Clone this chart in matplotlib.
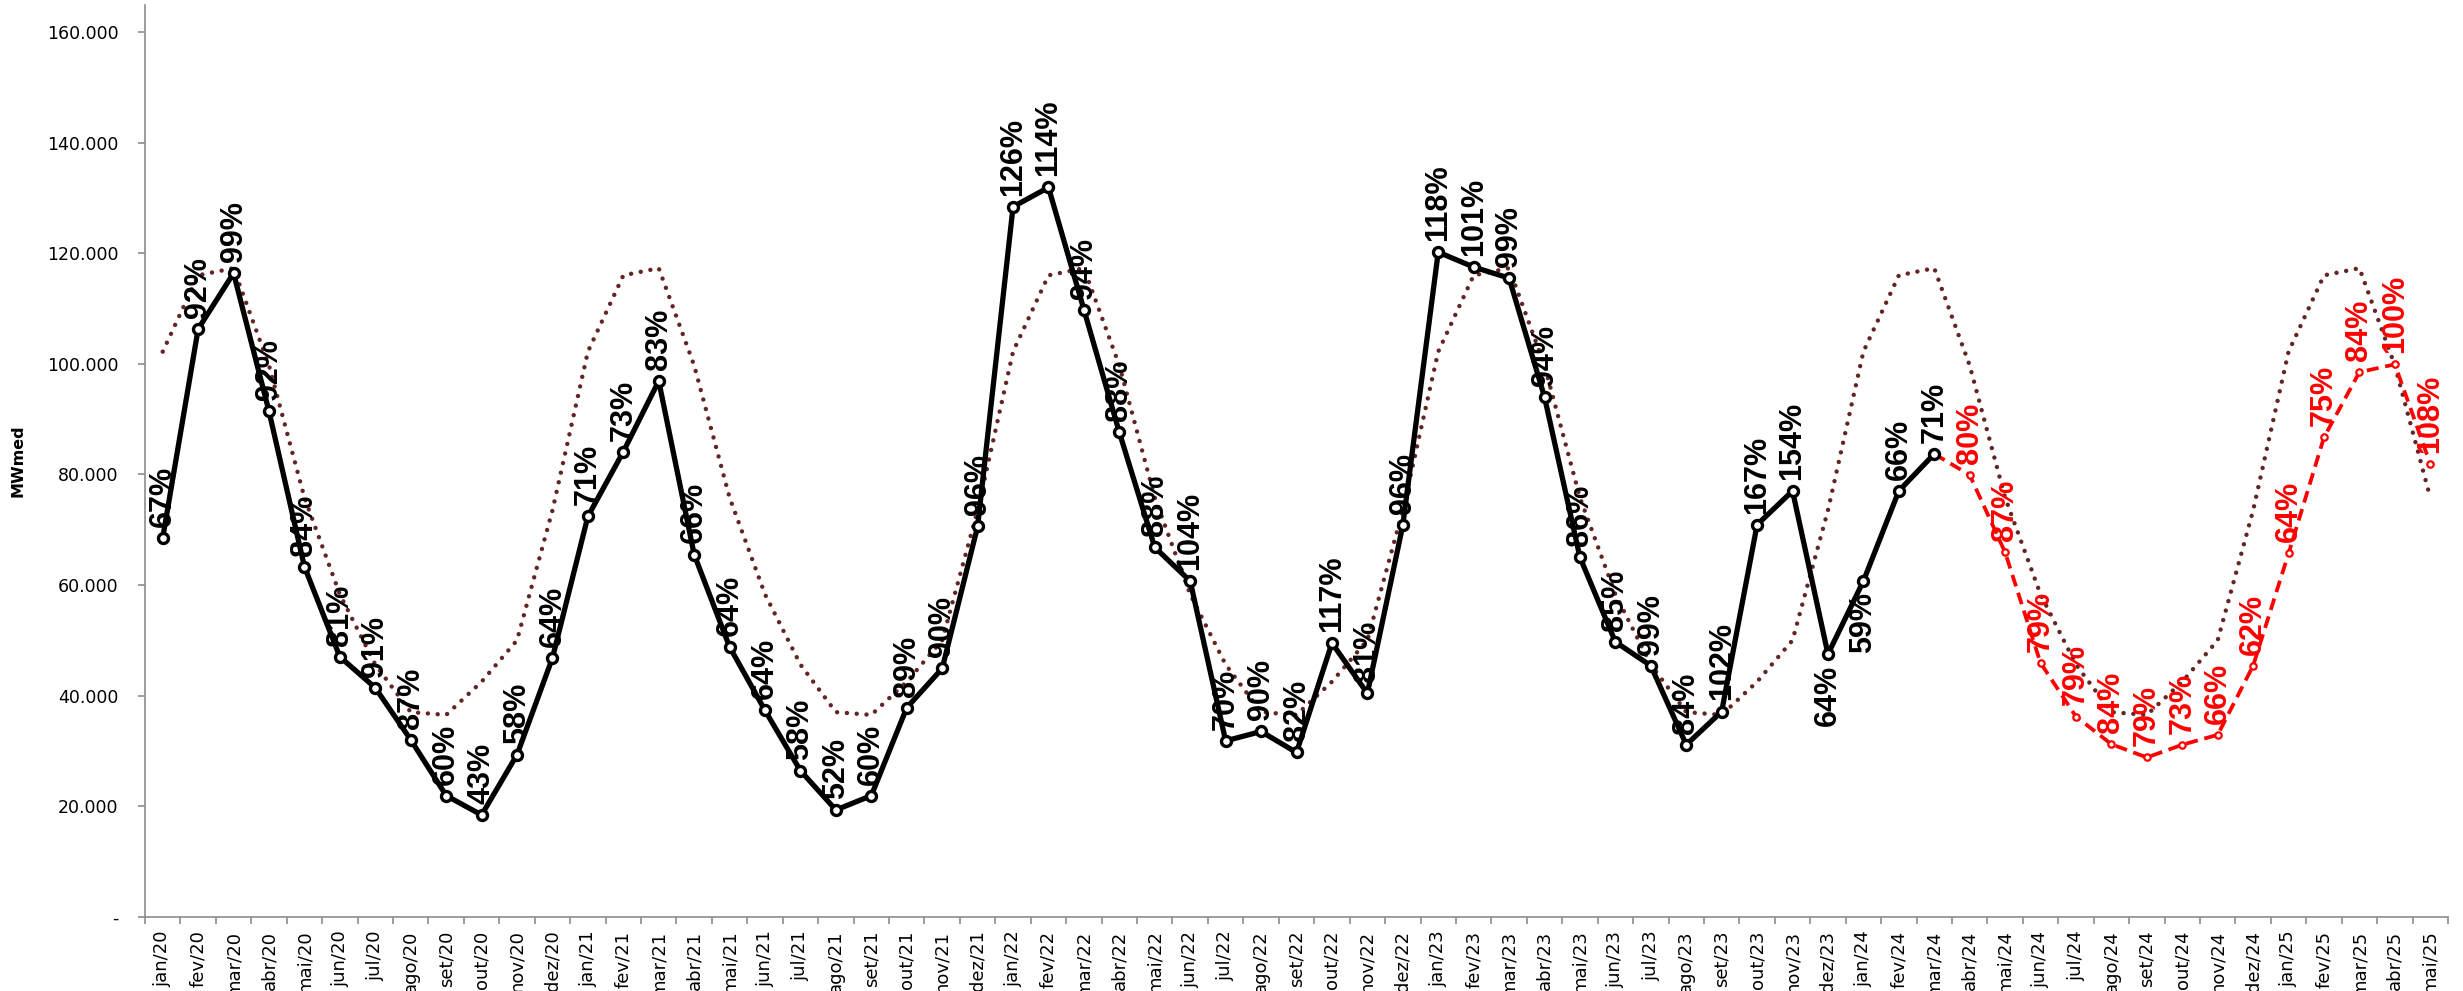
import matplotlib
matplotlib.use("Agg")
import matplotlib.pyplot as plt
import numpy as np
from matplotlib.ticker import FuncFormatter, FixedLocator

# ---------------- data ----------------
month_names = ["jan", "fev", "mar", "abr", "mai", "jun", "jul", "ago", "set", "out", "nov", "dez"]
years = ["20", "21", "22", "23", "24", "25"]
categories = [f"{m}/{y}" for y in years for m in month_names][:65]   # jan/20 .. mai/25

# MLT (long-term average), MWmed
mlt = [102200, 116000, 117300, 99700, 75800, 58300, 45600, 37000, 36500, 42500, 50000, 73500,
       102200, 116000, 117300, 99700, 75800, 58300, 45600, 37000, 36500, 42500, 50000, 73500,
       102200, 116000, 117300, 99700, 75800, 58300, 45600, 37000, 36500, 42500, 50000, 73500,
       102200, 116000, 117300, 99700, 75800, 58300, 45600, 37000, 36500, 42500, 50000, 73500,
       102200, 116000, 117300, 99700, 75800, 58300, 45600, 37000, 36500, 42500, 50000, 73500,
       102200, 116000, 117300, 99700, 75800]

# verified ENA jan/20 .. mar/24
ena = [68500, 106300, 116400, 91400, 63300, 47000, 41400, 32000, 21900, 18400, 29300, 46800,
       72400, 84100, 96900, 65500, 48800, 37300, 26400, 19300, 21900, 37800, 44900, 70600,
       128400, 131900, 109800, 87600, 66800, 60700, 31800, 33500, 29700, 49500, 40400, 70800,
       120200, 117500, 115500, 94000, 65000, 49700, 45400, 31100, 37100, 70900, 77000, 47500,
       60700, 77000, 83700]
ena_pct = [67, 92, 99, 92, 84, 81, 91, 87, 60, 43, 58, 64,
           71, 73, 83, 66, 64, 64, 58, 52, 60, 89, 90, 96,
           126, 114, 94, 88, 88, 104, 70, 90, 82, 117, 81, 96,
           118, 101, 99, 94, 86, 85, 99, 84, 102, 167, 154, 64,
           59, 66, 71]

# forecast mar/24 .. mai/25 (first point = last verified)
prev = [83700, 79900, 65900, 45900, 36200, 31200, 28800, 31100, 32900, 45400, 65700, 86700,
        98500, 99900, 81900]
prev_pct = [None, 80, 87, 79, 79, 84, 79, 73, 66, 62, 64, 75, 84, 100, 108]

# ---------------- figure ----------------
W, H = 2463, 991
fig = plt.figure(figsize=(W / 100, H / 100), dpi=100)
left, right, bottom, top = 145 / W, 2448 / W, (H - 916.7) / H, (H - 5) / H
ax = fig.add_axes([left, bottom, right - left, top - bottom])

x_all = np.arange(len(categories))
x_ena = np.arange(len(ena))
x_prev = np.arange(len(ena) - 1, len(ena) - 1 + len(prev))

ax.plot(x_all, mlt, color="#632523", lw=3.2, linestyle=(0, (0.01, 2.2)),
        dash_capstyle="round", zorder=2)
ax.plot(x_prev, prev, color="#ff0000", lw=2.7, linestyle=(0, (3.2, 1.8)),
        marker="o", ms=4.6, mfc="white", mec="#ff0000", mew=1.6, zorder=3)
ax.plot(x_ena, ena, color="black", lw=3.8, marker="o", ms=7.2, mfc="white",
        mec="black", mew=2.4, zorder=4)

lab_font = dict(fontsize=22, fontweight="bold", family=["Liberation Sans", "DejaVu Sans"])
below_idx = {47, 48}
for i, (v, p) in enumerate(zip(ena, ena_pct)):
    below = i in below_idx
    ax.annotate(f"{p}%", (x_ena[i], v), xytext=(0, -8 if below else 8),
                textcoords="offset points", rotation=90, ha="center",
                va="top" if below else "bottom", color="black", zorder=6, **lab_font)
for xi, v, p in zip(x_prev, prev, prev_pct):
    if p is None:
        continue
    ax.annotate(f"{p}%", (xi, v), xytext=(0, 8), textcoords="offset points",
                rotation=90, ha="center", va="bottom", color="#ff0000", zorder=6, **lab_font)

# ---------------- axes ----------------
ax.set_xlim(-0.5, len(categories) - 0.5)
ax.set_ylim(0, 164900)

for s in ("top", "right"):
    ax.spines[s].set_visible(False)
for s in ("left", "bottom"):
    ax.spines[s].set_color("#8c8c8c")
    ax.spines[s].set_linewidth(1.2)

ax.set_yticks(np.arange(0, 160001, 20000))
ax.yaxis.set_major_formatter(FuncFormatter(
    lambda v, _: "-" if v == 0 else f"{int(v):,}".replace(",", ".")))
ax.tick_params(axis="y", direction="out", length=5, width=1.2, color="#8c8c8c",
               labelsize=12.5, pad=14, labelcolor="black")

ax.set_xticks(x_all)
ax.set_xticklabels(categories, rotation=90)
ax.xaxis.set_minor_locator(FixedLocator(np.arange(-0.5, len(categories), 1.0)))
ax.tick_params(axis="x", which="major", length=0, labelsize=13, pad=10)
ax.tick_params(axis="x", which="minor", direction="out", length=5, width=1.2,
               color="#8c8c8c")

ax.set_ylabel("MWmed", fontsize=11.5, fontweight="bold")
ax.yaxis.set_label_coords(-0.052, 0.5)

fig.savefig("out.png", dpi=100)
